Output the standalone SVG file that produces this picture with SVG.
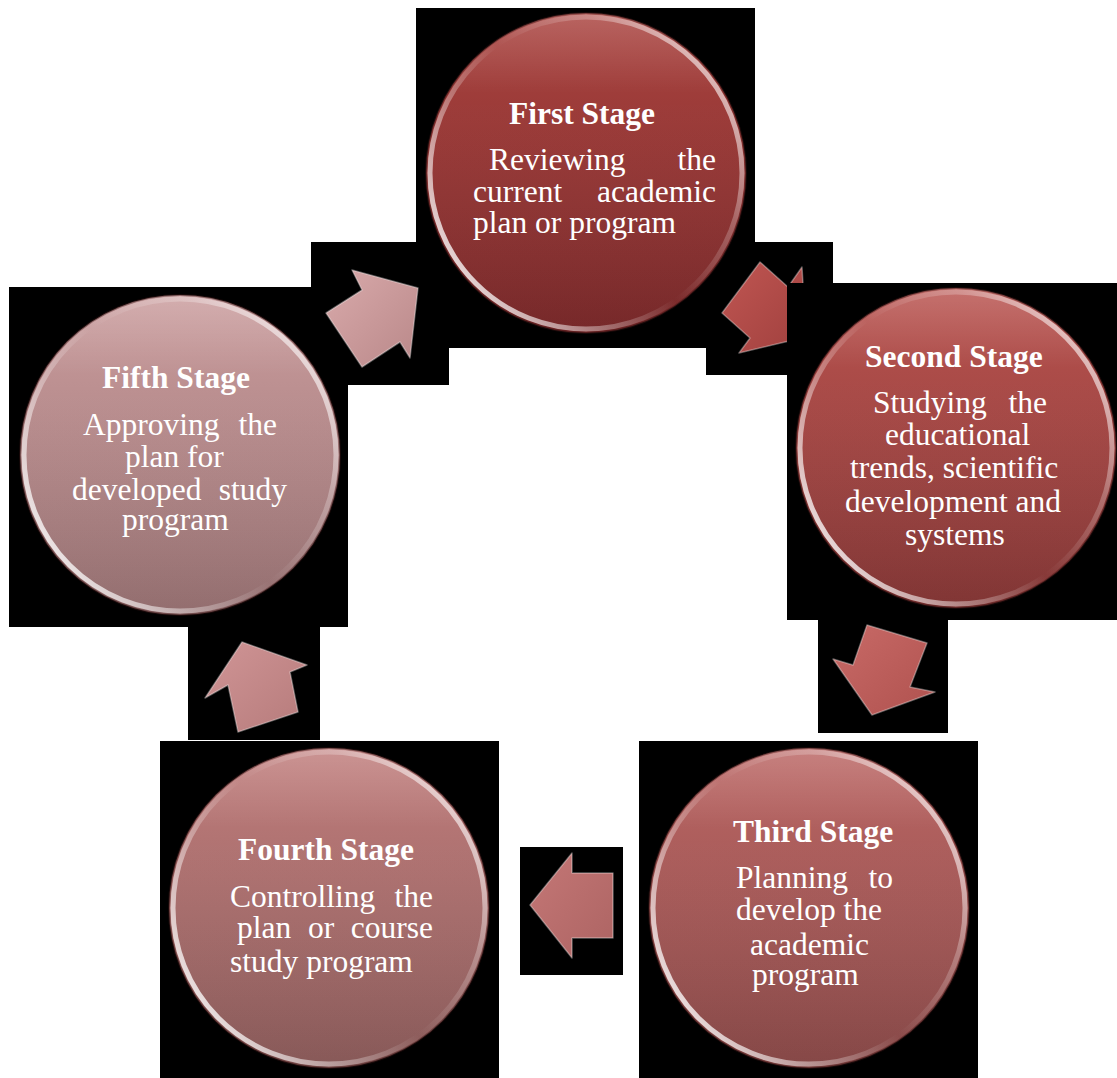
<svg xmlns="http://www.w3.org/2000/svg" width="1117" height="1078" viewBox="0 0 1117 1078">
<defs>
<style>
.bk{fill:#000}
.t{font-family:"Liberation Serif","Times New Roman",serif;font-size:31.5px;fill:#fff}
.h{font-weight:bold}
.rim{fill:none;stroke:url(#rim);stroke-width:5}
.edge{fill:none;stroke:#3a1414;stroke-opacity:.45;stroke-width:2}
.sheen{fill:url(#sheen)}
.arr{stroke:#fff;stroke-opacity:.35;stroke-width:1.5;stroke-linejoin:round}
</style>
<linearGradient id="g1" x1="0" y1="0" x2="0" y2="1"><stop offset="0" stop-color="#aa433f"/><stop offset="1" stop-color="#7c2a2b"/></linearGradient>
<linearGradient id="g2" x1="0" y1="0" x2="0" y2="1"><stop offset="0" stop-color="#b9534f"/><stop offset="1" stop-color="#873837"/></linearGradient>
<linearGradient id="g3" x1="0" y1="0" x2="0" y2="1"><stop offset="0" stop-color="#bb6664"/><stop offset="1" stop-color="#8c4b4a"/></linearGradient>
<linearGradient id="g4" x1="0" y1="0" x2="0" y2="1"><stop offset="0" stop-color="#c07d7c"/><stop offset="1" stop-color="#8e5d5c"/></linearGradient>
<linearGradient id="g5" x1="0" y1="0" x2="0" y2="1"><stop offset="0" stop-color="#ca9c9d"/><stop offset="1" stop-color="#9a7374"/></linearGradient>
<linearGradient id="rim" x1="0" y1="0.85" x2="1" y2="0.15">
<stop offset="0" stop-color="#fff" stop-opacity=".95"/>
<stop offset="0.3" stop-color="#fff" stop-opacity=".35"/>
<stop offset="0.5" stop-color="#fff" stop-opacity="0"/>
<stop offset="0.75" stop-color="#fff" stop-opacity=".25"/>
<stop offset="1" stop-color="#fff" stop-opacity=".8"/>
</linearGradient>
<linearGradient id="sheen" x1="0" y1="0" x2="0" y2="1">
<stop offset="0" stop-color="#fff" stop-opacity=".18"/>
<stop offset="0.25" stop-color="#fff" stop-opacity="0"/>
<stop offset="1" stop-color="#000" stop-opacity=".05"/>
</linearGradient>
<linearGradient id="a1" x1="0" y1="0" x2="1" y2="1"><stop offset="0" stop-color="#d9aaab"/><stop offset="1" stop-color="#b98889"/></linearGradient>
<linearGradient id="a2" x1="0" y1="0" x2="1" y2="1"><stop offset="0" stop-color="#c05652"/><stop offset="1" stop-color="#a0403e"/></linearGradient>
<linearGradient id="a3" x1="0" y1="0" x2="1" y2="1"><stop offset="0" stop-color="#c86a67"/><stop offset="1" stop-color="#b0524f"/></linearGradient>
<linearGradient id="a4" x1="0" y1="0" x2="1" y2="1"><stop offset="0" stop-color="#c47776"/><stop offset="1" stop-color="#ad6463"/></linearGradient>
<linearGradient id="a5" x1="0" y1="0" x2="1" y2="1"><stop offset="0" stop-color="#d09596"/><stop offset="1" stop-color="#b67b7b"/></linearGradient>
<clipPath id="clip2"><rect x="0" y="0" width="787" height="1078"/><rect x="0" y="0" width="1117" height="283"/></clipPath>
</defs>
<rect width="1117" height="1078" fill="#fff"/>
<g id="backdrop">
<rect class="bk" x="416" y="8" width="339" height="340"/>
<rect class="bk" x="787" y="283" width="330" height="337"/>
<rect class="bk" x="639" y="741" width="339" height="337"/>
<rect class="bk" x="160" y="741" width="339" height="337"/>
<rect class="bk" x="9" y="287" width="339" height="340"/>
<rect class="bk" x="311" y="242" width="138" height="143"/>
<rect class="bk" x="706" y="242" width="127" height="133"/>
<rect class="bk" x="818" y="620" width="130" height="113"/>
<rect class="bk" x="520" y="847" width="103" height="128"/>
<rect class="bk" x="188" y="627" width="132" height="113"/>
</g>
<g id="connectors">
<polygon class="arr" fill="url(#a1)" points="352,270 418,288 410,358 400,342 362,367 326,313 362,290"/>
<polygon class="arr" fill="url(#a2)" clip-path="url(#clip2)" points="760,262 788,287 802,267 806,337 739,353 750,338 722,313"/>
<polygon class="arr" fill="url(#a3)" points="867,625 927,643 910,687 935,692 872,715 833,659 853,665"/>
<polygon class="arr" fill="url(#a4)" points="530,905 572,853 572,873 613,873 613,938 572,938 572,958"/>
<polygon class="arr" fill="url(#a5)" points="242,642 307,665 290,672 298,712 238,732 228,685 205,698"/>
</g>
<g id="node1">
<circle cx="586" cy="173" r="160" fill="url(#g1)"/>
<circle class="sheen" cx="586" cy="173" r="160"/>
<circle class="rim" cx="586" cy="173" r="156"/>
<circle class="edge" cx="586" cy="173" r="160"/>
<text class="t h" x="509" y="124">First Stage</text>
<text class="t" y="170"><tspan x="489">Reviewing</tspan><tspan x="716" text-anchor="end">the</tspan></text>
<text class="t" y="202"><tspan x="473">current</tspan><tspan x="716" text-anchor="end">academic</tspan></text>
<text class="t" x="473" y="233">plan or program</text>
</g>
<g id="node2">
<circle cx="956" cy="448" r="160" fill="url(#g2)"/>
<circle class="sheen" cx="956" cy="448" r="160"/>
<circle class="rim" cx="956" cy="448" r="156"/>
<circle class="edge" cx="956" cy="448" r="160"/>
<text class="t h" x="865" y="367">Second Stage</text>
<text class="t" y="413"><tspan x="873">Studying</tspan><tspan x="1047" text-anchor="end">the</tspan></text>
<text class="t" x="885" y="445">educational</text>
<text class="t" x="850" y="478">trends, scientific</text>
<text class="t" x="845" y="512">development and</text>
<text class="t" x="905" y="545">systems</text>
</g>
<g id="node3">
<circle cx="809" cy="908" r="160" fill="url(#g3)"/>
<circle class="sheen" cx="809" cy="908" r="160"/>
<circle class="rim" cx="809" cy="908" r="156"/>
<circle class="edge" cx="809" cy="908" r="160"/>
<text class="t h" x="733" y="842">Third Stage</text>
<text class="t" y="888"><tspan x="736">Planning</tspan><tspan x="893" text-anchor="end">to</tspan></text>
<text class="t" x="736" y="920">develop the</text>
<text class="t" x="750" y="955">academic</text>
<text class="t" x="752" y="985">program</text>
</g>
<g id="node4">
<circle cx="329" cy="908" r="160" fill="url(#g4)"/>
<circle class="sheen" cx="329" cy="908" r="160"/>
<circle class="rim" cx="329" cy="908" r="156"/>
<circle class="edge" cx="329" cy="908" r="160"/>
<text class="t h" x="238" y="860">Fourth Stage</text>
<text class="t" y="907"><tspan x="230">Controlling</tspan><tspan x="433" text-anchor="end">the</tspan></text>
<text class="t" y="938"><tspan x="237">plan</tspan><tspan x="321" text-anchor="middle">or</tspan><tspan x="433" text-anchor="end">course</tspan></text>
<text class="t" x="230" y="972">study program</text>
</g>
<g id="node5">
<circle cx="180" cy="455" r="160" fill="url(#g5)"/>
<circle class="sheen" cx="180" cy="455" r="160"/>
<circle class="rim" cx="180" cy="455" r="156"/>
<circle class="edge" cx="180" cy="455" r="160"/>
<text class="t h" x="102" y="388">Fifth Stage</text>
<text class="t" y="435"><tspan x="83">Approving</tspan><tspan x="277" text-anchor="end">the</tspan></text>
<text class="t" x="125" y="467">plan for</text>
<text class="t" y="500"><tspan x="72">developed</tspan><tspan x="287" text-anchor="end">study</tspan></text>
<text class="t" x="122" y="530">program</text>
</g>
</svg>
